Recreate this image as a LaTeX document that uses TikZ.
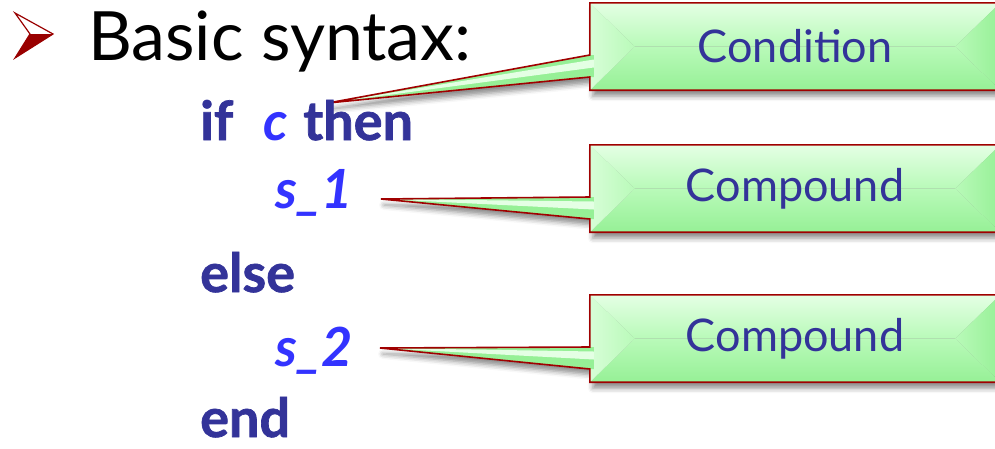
\documentclass[tikz,border=0pt]{standalone}
\usepackage{fontspec}
\setmainfont{Lato}
\newfontfamily\kwfont{Lato}[BoldFeatures={FakeBold=1.3}]
\usetikzlibrary{calc,shadows.blur}
\pgfdeclarelayer{bg}
\pgfsetlayers{bg,main}

\definecolor{kw}{RGB}{51,51,153}
\definecolor{idc}{RGB}{51,51,255}
\definecolor{rim}{RGB}{160,0,0}
\definecolor{gLight}{RGB}{228,255,228}
\definecolor{gMid}{RGB}{185,250,185}
\definecolor{gDeep}{RGB}{150,240,150}
\definecolor{bulletred}{RGB}{153,0,0}

\tikzset{
  head/.style={font=\fontsize{68}{68}\selectfont, text=black, inner sep=0pt, anchor=base west},
  kwd/.style={font=\fontsize{54}{54}\selectfont\kwfont\bfseries, text=kw, inner sep=0pt, anchor=base west},
  var/.style={font=\fontsize{54}{54}\selectfont\bfseries\itshape, text=idc, inner sep=0pt, anchor=base west},
  note/.style={minimum width=410pt, minimum height=87pt, inner sep=0pt,
    font=\fontsize{45}{45}\selectfont, text=kw},
  rimline/.style={draw=rim, line width=1.6pt, line join=miter},
  callshadow/.style={blur shadow={shadow xshift=3pt, shadow yshift=-6pt,
    shadow blur radius=5pt, shadow opacity=45}},
}

% callout box #1 with a pointer ending at coordinate #2
\newcommand\drawcallout[2]{%
  \path[callshadow] (#1.north west) -- (#1.north east) -- (#1.south east)
    -- (#1.south west) -- ($(#1.west)+(0,30.5)$) -- (#2)
    -- ($(#1.west)+(0,8.5)$) -- cycle;
  % bevelled body
  \shade[top color=gLight, bottom color=gMid]
    (#1.north west) -- (#1.north east) -- ($(#1.east)+(-45,0)$)
    -- ($(#1.west)+(45,0)$) -- cycle;
  \shade[top color=gMid, bottom color=gDeep]
    (#1.south west) -- (#1.south east) -- ($(#1.east)+(-45,0)$)
    -- ($(#1.west)+(45,0)$) -- cycle;
  \shade[left color=gLight!70!gMid, right color=gMid]
    (#1.north west) -- ($(#1.west)+(45,0)$) -- (#1.south west) -- cycle;
  \shade[left color=gMid, right color=gDeep]
    (#1.north east) -- ($(#1.east)+(-45,0)$) -- (#1.south east) -- cycle;
  % pointer
  \fill[gDeep] ($(#1.west)+(0,8.5)$) -- (#2) -- ($(#1.west)+(0,30.5)$)
    -- ($(#1.west)+(4,30.5)$) -- ($(#1.west)+(4,8.5)$) -- cycle;
  \fill[gLight] ($(#1.west)+(4,13)$) -- (#2) -- ($(#1.west)+(4,21)$) -- cycle;
  % outline
  \path[rimline] (#1.north west) -- (#1.north east) -- (#1.south east)
    -- (#1.south west) -- ($(#1.west)+(0,30.5)$) -- (#2)
    -- ($(#1.west)+(0,8.5)$) -- cycle;
}

\begin{document}
\begin{tikzpicture}[x=1pt,y=-1pt]
  \useasboundingbox (0,0) rectangle (995,448);
  \clip (0,0) rectangle (995,448);

  % bullet arrowhead
  \fill[bulletred] (15,58) -- (30,34) -- (53,34) -- cycle;
  \draw[bulletred, line width=1.2pt, line join=miter]
    (15,13) -- (53,34) -- (15,58) -- (30,34) -- cycle;

  \node[head] (title) at (88,60) {Basic syntax:};

  % code lines
  \node[kwd] (if)   at (200,140) {if};
  \node[var] (c)    at (263,140) {c};
  \node[kwd] (then) at (303,140) {then};
  \node[var] (s1)   at (275,208) {s\_1};
  \node[kwd] (else) at (200,292) {else};
  \node[var] (s2)   at (275,366) {s\_2};
  \node[kwd] (end)  at (200,437) {end};

  % annotation boxes
  \node[note] (cond) at (795,46.5)  {Condition};
  \node[note] (cmp1) at (795,188.5) {Compound};
  \node[note] (cmp2) at (795,338.5) {Compound};

  \coordinate (tipC)  at (328,103);
  \coordinate (tipS1) at (381,199);
  \coordinate (tipS2) at (380,348);

  \begin{pgfonlayer}{bg}
    \drawcallout{cond}{tipC}
    \drawcallout{cmp1}{tipS1}
    \drawcallout{cmp2}{tipS2}
  \end{pgfonlayer}
\end{tikzpicture}
\end{document}
